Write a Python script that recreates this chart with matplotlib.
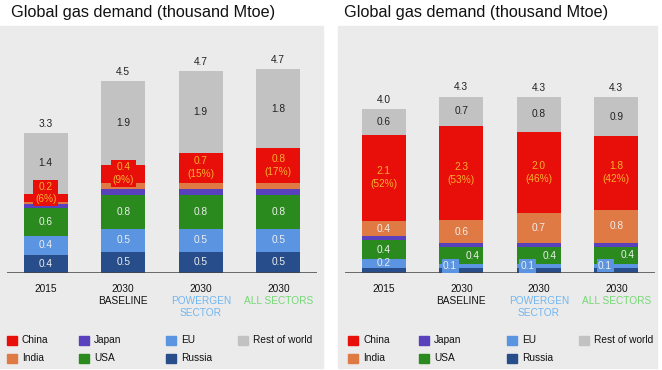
#!/usr/bin/env python3
import numpy as np
import matplotlib
matplotlib.use("Agg")
import matplotlib.pyplot as plt
from matplotlib.patches import Rectangle

plt.rcParams['font.family'] = ['Liberation Sans', 'DejaVu Sans']

# ---- data (thousand Mtoe) ----
categories = ["2015", "2030", "2030", "2030"]
scenarios = ["", "BASELINE", "POWERGEN\nSECTOR", "ALL SECTORS"]
scenario_colors = ["#111111", "#111111", "#72b6f0", "#74d874"]

series_names = ["Russia", "EU", "USA", "Japan", "India", "China", "Rest of world"]

# left panel
left_russia = [0.43, 0.50, 0.50, 0.50]
left_eu = [0.44, 0.53, 0.53, 0.53]
left_usa = [0.64, 0.78, 0.78, 0.78]
left_japan = [0.09, 0.14, 0.14, 0.14]
left_india = [0.04, 0.15, 0.15, 0.15]
left_china = [0.20, 0.42, 0.70, 0.80]
left_rest = [1.42, 1.94, 1.90, 1.84]

# right panel
right_russia = [0.13, 0.12, 0.12, 0.13]
right_eu = [0.22, 0.10, 0.10, 0.10]
right_usa = [0.44, 0.40, 0.40, 0.40]
right_japan = [0.10, 0.10, 0.11, 0.11]
right_india = [0.38, 0.56, 0.72, 0.80]
right_china = [2.08, 2.28, 1.98, 1.78]
right_rest = [0.62, 0.72, 0.84, 0.94]

colors = {
    "Russia": "#274d8a",
    "EU": "#5b94e0",
    "USA": "#2b8a1e",
    "Japan": "#5940bd",
    "India": "#e07a45",
    "China": "#e80e0a",
    "Rest of world": "#c2c2c2",
}

W, H = 662, 370
BG = "#ebebeb"
SMALL = 7.3
LIGHT_TXT = "#eeeeee"
CHINA_TXT = "#f8b02a"
DARK_TXT = "#222222"


def px_box(x0, y0, x1, y1):
    # pixel box (top-left origin) -> figure fraction [l, b, w, h]
    return [x0 / W, 1 - y1 / H, (x1 - x0) / W, (y1 - y0) / H]


def draw_panel(fig, ax, stacks, ymax, right=False):
    x = np.arange(len(categories))
    width = 0.57
    bottom = np.zeros(len(categories))
    mids = {}
    for name in series_names:
        vals = np.array(stacks[name])
        ax.bar(x, vals, width, bottom=bottom, color=colors[name], linewidth=0, zorder=2)
        mids[name] = bottom + vals / 2
        bottom = bottom + vals
    totals = bottom

    ax.set_xlim(-0.5, len(categories) - 0.5)
    ax.set_ylim(0, ymax)
    ax.axis("off")
    ax.axhline(0, color="#444444", lw=1.1, zorder=3)

    for i in x:
        # totals
        ax.annotate(f"{totals[i]:.1f}", (i, totals[i]), xytext=(0, 3),
                    textcoords="offset points", ha="center", va="bottom",
                    fontsize=SMALL, color=DARK_TXT)
        # rest of world
        ax.text(i, mids["Rest of world"][i], f"{stacks['Rest of world'][i]:.1f}",
                ha="center", va="center", fontsize=SMALL, color=DARK_TXT)
        # china with share
        c = stacks["China"][i]
        lbl = f"{c:.1f}\n({c / totals[i] * 100:.0f}%)"
        kw = {}
        if not right:
            kw["bbox"] = dict(boxstyle="square,pad=0.2", fc=colors["China"], ec="none")
        ax.text(i, mids["China"][i] + (0.12 if (not right and i == 0) else 0), lbl,
                ha="center", va="center", fontsize=SMALL, color=CHINA_TXT,
                linespacing=1.35, zorder=4, **kw)
        if not right:
            for name in ["Russia", "EU", "USA"]:
                ax.text(i, mids[name][i], f"{stacks[name][i]:.1f}", ha="center",
                        va="center", fontsize=SMALL, color=LIGHT_TXT)
        else:
            ax.text(i, mids["India"][i], f"{stacks['India'][i]:.1f}", ha="center",
                    va="center", fontsize=SMALL, color=LIGHT_TXT)
            if i == 0:
                for name in ["EU", "USA"]:
                    ax.text(i, mids[name][i], f"{stacks[name][i]:.1f}", ha="center",
                            va="center", fontsize=SMALL, color=LIGHT_TXT)
            else:
                ax.text(i - width / 2 + 0.05, mids["EU"][i], f"{stacks['EU'][i]:.1f}",
                        ha="left", va="center", fontsize=SMALL, color=LIGHT_TXT, zorder=4,
                        bbox=dict(boxstyle="square,pad=0.15", fc=colors["EU"], ec="none"))
                ax.text(i + width / 2 - 0.05, mids["USA"][i], f"{stacks['USA'][i]:.1f}",
                        ha="right", va="center", fontsize=SMALL, color=LIGHT_TXT)

        # category labels
        ax.annotate(categories[i], (i, 0), xytext=(0, -11.5), textcoords="offset points",
                    ha="center", va="center", fontsize=SMALL, color="#111111")
        if scenarios[i]:
            ax.annotate(scenarios[i], (i, 0), xytext=(0, -16.8), textcoords="offset points",
                        ha="center", va="top", fontsize=SMALL, color=scenario_colors[i],
                        linespacing=1.2)


def draw_legend(fig, xs, rows_y):
    layout = [["China", "Japan", "EU", "Rest of world"], ["India", "USA", "Russia"]]
    for r, row in enumerate(layout):
        for c, name in enumerate(row):
            x0, yc = xs[c], rows_y[r]
            fig.patches.append(Rectangle((x0 / W, 1 - (yc + 4.5) / H), 10 / W, 9 / H,
                                         transform=fig.transFigure, color=colors[name],
                                         zorder=1))
            fig.text((x0 + 15) / W, 1 - yc / H, name, ha="left", va="center",
                     fontsize=SMALL, color="#111111")


fig = plt.figure(figsize=(W / 100, H / 100), dpi=100)
fig.patch.set_facecolor("white")

# panel backgrounds
for x0, x1 in [(0, 323), (338, 657)]:
    l, b, w, h = px_box(x0, 26, x1, 368)
    fig.patches.append(Rectangle((l, b), w, h, transform=fig.transFigure,
                                 color=BG, zorder=-1))

fig.text(11 / W, 1 - 12 / H, "Global gas demand (thousand Mtoe)", ha="left",
         va="center", fontsize=11.7, color="#111111")
fig.text(344 / W, 1 - 12 / H, "Global gas demand (thousand Mtoe)", ha="left",
         va="center", fontsize=11.7, color="#111111")

ax1 = fig.add_axes(px_box(7, 30, 317, 273))
ax1.patch.set_alpha(0)
left = {"Russia": left_russia, "EU": left_eu, "USA": left_usa, "Japan": left_japan,
        "India": left_india, "China": left_china, "Rest of world": left_rest}
draw_panel(fig, ax1, left, 243 / 43.0)

ax2 = fig.add_axes(px_box(345, 30, 655, 273))
ax2.patch.set_alpha(0)
right = {"Russia": right_russia, "EU": right_eu, "USA": right_usa, "Japan": right_japan,
         "India": right_india, "China": right_china, "Rest of world": right_rest}
draw_panel(fig, ax2, right, 243 / 41.2, right=True)

draw_legend(fig, [7, 79, 166, 238], [340, 358])
draw_legend(fig, [348, 419, 507, 579], [340, 358])

fig.savefig("out.png", dpi=100)
